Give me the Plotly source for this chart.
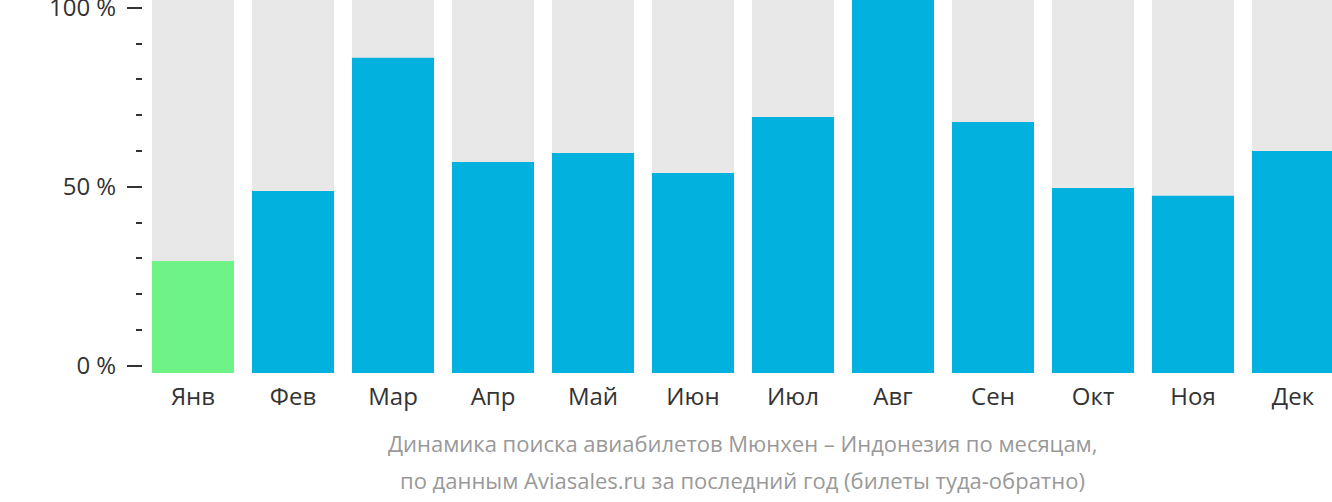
import plotly.graph_objects as go

months = ["Янв", "Фев", "Мар", "Апр", "Май", "Июн", "Июл", "Авг", "Сен", "Окт", "Ноя", "Дек"]
values = [30.0, 48.8, 84.5, 56.6, 59.0, 53.6, 68.6, 100.0, 67.3, 49.6, 47.5, 59.5]
full = [100] * 12
colors = ["#6ef387"] + ["#02b1dd"] * 11
ytick_vals = [0, 50, 100]
ytick_text = ["0 %", "50 %", "100 %"]
caption_lines = ["Динамика поиска авиабилетов Мюнхен – Индонезия по месяцам,",
                 "по данным Aviasales.ru за последний год (билеты туда-обратно)"]

x = list(range(len(months)))
fig = go.Figure()
fig.add_bar(x=x, y=full, marker=dict(color="#e8e8e8", line=dict(width=0)), hoverinfo="skip")
fig.add_bar(x=x, y=values, marker=dict(color=colors, line=dict(width=0)))
fig.add_scatter(x=[0], y=[0], yaxis="y2", mode="markers", marker=dict(opacity=0), hoverinfo="skip")

fig.update_layout(
    width=1332, height=502,
    margin=dict(l=143, r=0, t=0, b=129),
    paper_bgcolor="white", plot_bgcolor="white",
    barmode="overlay", bargap=0.18, showlegend=False,
    font=dict(family="Open Sans", color="#333333"),
    xaxis=dict(range=[-0.5, 11.39], tickvals=x, ticktext=months, showgrid=False, zeroline=False,
               ticks="", tickfont=dict(size=24, color="#333333"), showline=False,
               ticklabelstandoff=7, automargin=False),
    yaxis=dict(range=[0, 100], showticklabels=False, showgrid=False, zeroline=False, ticks="",
               automargin=False),
    yaxis2=dict(overlaying="y", side="left", range=[-2.0, 102.2], tickvals=ytick_vals, ticktext=ytick_text,
                ticks="outside", ticklen=15, tickwidth=2, tickcolor="#333333",
                tickfont=dict(size=24, color="#333333"), showgrid=False, zeroline=False, showline=False,
                ticklabeloverflow="allow", ticklabelstandoff=6, automargin=False,
                minor=dict(dtick=10, tick0=0, ticks="outside", ticklen=6, tickwidth=2, tickcolor="#333333")),
    annotations=[
        dict(text=caption_lines[0], xref="paper", yref="paper", x=0.504, y=-70 / 373, xanchor="center",
             yanchor="middle", showarrow=False, font=dict(size=22, color="#999999")),
        dict(text=caption_lines[1], xref="paper", yref="paper", x=0.504, y=-107 / 373, xanchor="center",
             yanchor="middle", showarrow=False, font=dict(size=22, color="#999999")),
    ],
)
fig.update_annotations(font_family="Open Sans")
fig.write_html("out.html")
